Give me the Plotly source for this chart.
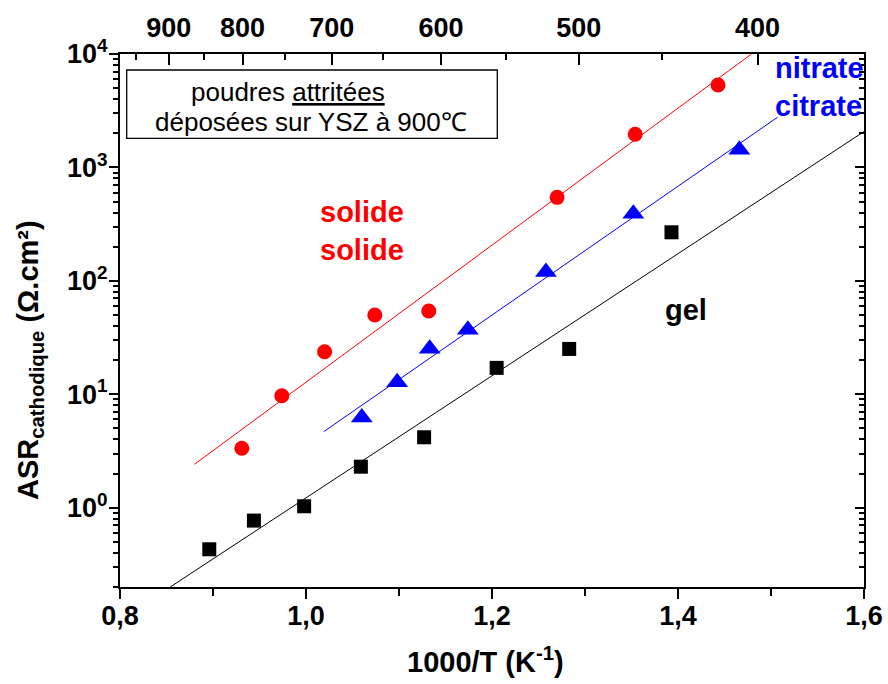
import plotly.graph_objects as go

# 1000/T (K-1) vs ASR
solide_x = [0.931, 0.974, 1.020, 1.074, 1.132, 1.270, 1.354, 1.443]
solide_y = [3.34, 9.7, 23.7, 50, 54.3, 545, 1959, 5330]

nitrate_x = [1.060, 1.098, 1.133, 1.174, 1.258, 1.352, 1.466]
nitrate_y = [6.24, 12.8, 25.2, 37.1, 119.7, 391, 1433]

gel_x = [0.896, 0.944, 0.998, 1.059, 1.127, 1.205, 1.283, 1.393]
gel_y = [0.43, 0.77, 1.03, 2.30, 4.18, 17.1, 25.1, 268]

# fitted lines (end points)
fit_solide_x = [0.880, 1.479]
fit_solide_y = [2.41, 10000]
fit_nitrate_x = [1.019, 1.507]
fit_nitrate_y = [4.68, 2767]
fit_gel_x = [0.854, 1.600]
fit_gel_y = [0.2, 2070]

x_ticks = [0.8, 1.0, 1.2, 1.4, 1.6]
x_ticktext = ["0,8", "1,0", "1,2", "1,4", "1,6"]
y_ticks = [1, 10, 100, 1000, 10000]
y_ticktext = ["10<sup>0</sup>", "10<sup>1</sup>", "10<sup>2</sup>", "10<sup>3</sup>", "10<sup>4</sup>"]
temp_labels = [900, 800, 700, 600, 500, 400]
temp_minor = [950, 850, 750, 650, 550, 450]

FONT = "Liberation Sans, Arial, sans-serif"

# plot area in pixels: x 120..864, y 54..587
def px(x):
    return (x - 120) / 744

def py(y):
    return (587 - y) / 533

fig = go.Figure()
fig.add_trace(go.Scatter(x=fit_solide_x, y=fit_solide_y, mode="lines",
                         line=dict(color="#ff0000", width=1)))
fig.add_trace(go.Scatter(x=fit_nitrate_x, y=fit_nitrate_y, mode="lines",
                         line=dict(color="#0000ff", width=1)))
fig.add_trace(go.Scatter(x=fit_gel_x, y=fit_gel_y, mode="lines",
                         line=dict(color="black", width=1)))
fig.add_trace(go.Scatter(x=solide_x, y=solide_y, mode="markers",
                         marker=dict(symbol="circle", size=15, color="#ff0000")))
fig.add_trace(go.Scatter(x=nitrate_x, y=nitrate_y, mode="markers",
                         marker=dict(symbol="triangle-up", size=19, color="#0000ff")))
fig.add_trace(go.Scatter(x=gel_x, y=gel_y, mode="markers",
                         marker=dict(symbol="square", size=14, color="black")))
# dummy trace so the top / right axes get drawn
fig.add_trace(go.Scatter(x=[None], y=[None], xaxis="x2", yaxis="y2", hoverinfo="skip"))

top_pos = [1000 / (t + 273.15) for t in temp_labels]
top_minor = [1000 / (t + 273.15) for t in temp_minor]

tickfont = dict(family=FONT, size=27, color="black", weight="bold")

fig.update_layout(
    width=888, height=684,
    margin=dict(l=120, r=24, t=54, b=97),
    plot_bgcolor="white", paper_bgcolor="white",
    showlegend=False,
    xaxis=dict(range=[0.8, 1.6], tickvals=x_ticks, ticktext=x_ticktext,
               ticks="outside", ticklen=10, tickwidth=2, tickcolor="black",
               minor=dict(tickvals=[0.9, 1.1, 1.3, 1.5], ticks="outside", ticklen=7,
                          tickwidth=2, tickcolor="black", showgrid=False),
               showline=True, linewidth=2, linecolor="black", automargin=False,
               ticklabelstandoff=-6,
               showgrid=False, zeroline=False, tickfont=tickfont),
    xaxis2=dict(range=[0.8, 1.6], overlaying="x", side="top",
                tickvals=top_pos, ticktext=[str(t) for t in temp_labels],
                ticks="inside", ticklen=11, tickwidth=2, tickcolor="black",
                minor=dict(tickvals=top_minor, ticks="inside", ticklen=6,
                           tickwidth=2, tickcolor="black", showgrid=False),
                showline=True, linewidth=2, linecolor="black", automargin=False,
                ticklabelstandoff=4,
                showgrid=False, zeroline=False, tickfont=tickfont),
    yaxis=dict(type="log", range=[-0.69897, 4], tickvals=y_ticks, ticktext=y_ticktext,
               ticks="outside", ticklen=9, tickwidth=2, tickcolor="black",
               minor=dict(dtick="D1", ticks="outside", ticklen=5, tickwidth=2,
                          tickcolor="black", showgrid=False),
               showline=True, linewidth=2, linecolor="black", automargin=False,
               ticklabelstandoff=-4,
               showgrid=False, zeroline=False, tickfont=tickfont),
    yaxis2=dict(type="log", range=[-0.69897, 4], overlaying="y", side="right",
                showticklabels=False, tickvals=y_ticks,
                ticks="inside", ticklen=9, tickwidth=2, tickcolor="black",
                minor=dict(dtick="D1", ticks="inside", ticklen=5, tickwidth=2,
                           tickcolor="black", showgrid=False),
                showline=True, linewidth=2, linecolor="black", automargin=False,
                showgrid=False, zeroline=False),
)

# framed note
fig.add_shape(type="rect", xref="paper", yref="paper",
              x0=px(126.7), x1=px(497.3), y0=py(70), y1=py(138.3),
              line=dict(color="black", width=1.3), fillcolor="white")

def note(text, x, y, size=24, color="black", bold=False, xanchor="center", align="center", angle=0):
    fig.add_annotation(text=text, xref="paper", yref="paper", x=px(x), y=py(y),
                       xanchor=xanchor, yanchor="middle", align=align, showarrow=False,
                       textangle=angle,
                       font=dict(family=FONT, size=size, color=color,
                                 weight="bold" if bold else "normal"))

note("poudres <u>attritées</u>", 287.5, 92, size=26)
note("déposées sur YSZ à 900℃", 310.8, 122, size=26)
note("solide<br>solide", 361.7, 231, size=29, color="#ff0000", bold=True)
note("nitrate<br>citrate", 772.7, 87, size=29, color="#0000ff", bold=True, xanchor="left", align="left")
note("gel", 686, 310, size=29, bold=True)
note("1000/T (K<sup>-1</sup>)", 485, 660, size=29, bold=True)
note("ASR<sub>cathodique</sub> (Ω.cm²)", 30, 360, size=29, bold=True, angle=-90)

# page body has an 8px default margin; drop it so the figure sits at 0,0
fig.write_html("out.html", config={"displayModeBar": False},
               post_script="document.body.style.margin='0';")
